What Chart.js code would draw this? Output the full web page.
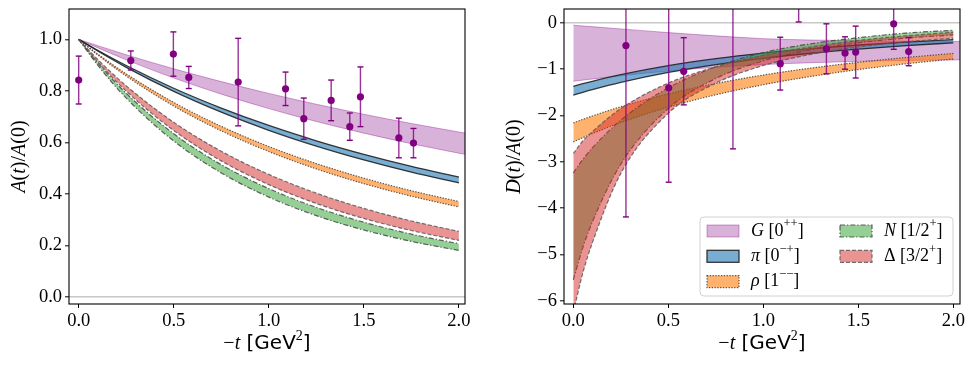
<!DOCTYPE html>
<html>
<head>
<meta charset="utf-8">
<title>A(t)/A(0) and D(t)/A(0)</title>
<script src="https://cdn.jsdelivr.net/npm/chart.js"></script>
<style>
  html, body { margin: 0; padding: 0; background: #fff; }
  #wrap { position: relative; width: 977px; height: 366px; }
  #leftChart { position: absolute; left: 0; top: 0; }
  #rightChart { position: absolute; left: 488px; top: 0; }
</style>
</head>
<body>
<div id="wrap">
  <canvas id="leftChart" width="488" height="366"></canvas>
  <canvas id="rightChart" width="489" height="366"></canvas>
</div>
<script>
// -t grids (GeV^2) the bands are sampled on
const tLeft  = [0, 0.1, 0.25, 0.5, 0.75, 1.0, 1.25, 1.5, 1.75, 2.0];
const tRight = [0, 0.05, 0.1, 0.25, 0.5, 0.75, 1.0, 1.25, 1.5, 1.75, 2.0];
const tGlue  = [0, 0.25, 0.5, 0.75, 1.0, 1.25, 1.5, 1.75, 2.0, 2.1];

// left panel: A(t)/A(0) bands (upper / lower edge)
const A_G_hi   = [1, 0.9403, 0.8858, 0.8359, 0.7901, 0.7480, 0.7091, 0.6732, 0.6400, 0.6274];
const A_G_lo   = [1, 0.9204, 0.8499, 0.7872, 0.7311, 0.6809, 0.6357, 0.5948, 0.5578, 0.5439];
const A_pi_hi  = [1, 0.9576, 0.8984, 0.8102, 0.7332, 0.6655, 0.6060, 0.5534, 0.5067, 0.4651];
const A_pi_lo  = [1, 0.9546, 0.8914, 0.7980, 0.7172, 0.6469, 0.5855, 0.5317, 0.4842, 0.4423];
const A_rho_hi = [1, 0.9433, 0.8660, 0.7550, 0.6621, 0.5838, 0.5175, 0.4608, 0.4121, 0.3700];
const A_rho_lo = [1, 0.9395, 0.8576, 0.7410, 0.6446, 0.5642, 0.4967, 0.4395, 0.3908, 0.3490];
const A_N_hi   = [1, 0.9087, 0.7905, 0.6331, 0.5130, 0.4201, 0.3473, 0.2896, 0.2434, 0.2060];
const A_N_lo   = [1, 0.8998, 0.7718, 0.6051, 0.4811, 0.3873, 0.3153, 0.2593, 0.2152, 0.1800];
const A_Dl_hi  = [1, 0.9223, 0.8194, 0.6777, 0.5654, 0.4754, 0.4026, 0.3433, 0.2945, 0.2540];
const A_Dl_lo  = [1, 0.9128, 0.7990, 0.6460, 0.5280, 0.4357, 0.3627, 0.3044, 0.2574, 0.2191];

// right panel: D(t)/A(0) bands
const D_G_hi   = [-0.05, -0.13, -0.21, -0.28, -0.34, -0.37, -0.385, -0.395, -0.40, -0.40];
const D_G_lo   = [-1.26, -1.14, -1.04, -0.96, -0.90, -0.86, -0.83, -0.81, -0.80, -0.79];
const D_pi_hi  = [-1.37, -1.3139, -1.2609, -1.1179, -0.9241, -0.7726, -0.6525, -0.5560, -0.4777, -0.4134, -0.3602];
const D_pi_lo  = [-1.56, -1.4989, -1.4409, -1.2841, -1.0696, -0.9004, -0.7650, -0.6555, -0.5659, -0.4919, -0.4303];
const D_rho_hi = [-2.16, -2.0833, -2.0102, -1.8103, -1.5322, -1.3083, -1.1260, -0.9760, -0.8515, -0.7473, -0.6595];
const D_rho_lo = [-2.57, -2.4782, -2.3907, -2.1516, -1.8193, -1.5521, -1.3347, -1.1561, -1.0080, -0.8842, -0.7798];
const D_N_hi   = [-3.24, -2.95, -2.70, -2.10, -1.40, -0.95, -0.64, -0.45, -0.32, -0.22, -0.16];
const D_N_lo   = [-5.55, -4.85, -4.30, -3.05, -1.85, -1.20, -0.82, -0.58, -0.43, -0.33, -0.26];
const D_Dl_hi  = [-2.82, -2.55, -2.35, -1.85, -1.30, -0.95, -0.70, -0.52, -0.38, -0.28, -0.20];
const D_Dl_lo  = [-6.25, -5.40, -4.75, -3.25, -1.95, -1.30, -0.92, -0.68, -0.52, -0.41, -0.33];

// lattice points with errors
const tA    = [0, 0.274, 0.498, 0.579, 0.839, 1.088, 1.184, 1.328, 1.426, 1.482, 1.684, 1.761];
const A_val = [0.842, 0.918, 0.943, 0.852, 0.834, 0.808, 0.692, 0.763, 0.661, 0.777, 0.617, 0.597];
const A_err = [0.093, 0.037, 0.086, 0.043, 0.170, 0.065, 0.080, 0.079, 0.053, 0.116, 0.077, 0.057];
const tD    = [0.277, 0.502, 0.581, 0.840, 1.089, 1.186, 1.332, 1.430, 1.486, 1.686, 1.765];
const D_val = [-0.49, -1.40, -1.045, 0.60, -0.88, 0.70, -0.56, -0.65, -0.63, -0.02, -0.62];
const D_err = [3.70, 2.04, 0.725, 3.32, 0.57, 0.68, 0.54, 0.35, 0.56, 0.55, 0.305];

const xTicks  = [0, 0.5, 1.0, 1.5, 2.0];
const yTicksA = [0, 0.2, 0.4, 0.6, 0.8, 1.0];
const yTicksD = [-6, -5, -4, -3, -2, -1, 0];

const SERIF = '"Liberation Serif", "DejaVu Serif", serif';
const SANS = '"DejaVu Sans", sans-serif';
const PURPLE = '#800080';

const styles = {
  G:   { fill: 'rgba(128,0,128,0.3)',  edge: 'rgba(128,0,128,0.35)', dash: [], w: 1 },
  pi:  { fill: 'rgba(31,119,180,0.6)', edge: 'rgba(25,25,25,0.85)', dash: [], w: 1.3 },
  rho: { fill: 'rgba(255,127,14,0.6)', edge: 'rgba(60,60,60,0.85)', dash: [1.3, 1.5], w: 1.2 },
  N:   { fill: 'rgba(44,160,44,0.5)',  edge: 'rgba(70,70,70,0.85)', dash: [5, 2, 1.3, 2], w: 1.2 },
  Dl:  { fill: 'rgba(214,39,40,0.5)',  edge: 'rgba(90,90,90,0.85)', dash: [4, 2], w: 1.2 }
};

function pts(xs, ys) { return xs.map((x, i) => ({ x: x, y: ys[i] })); }

function band(ts, hi, lo, st, order) {
  const common = {
    borderColor: st.edge, borderWidth: st.w, borderDash: st.dash,
    pointRadius: 0, cubicInterpolationMode: 'monotone'
  };
  return [
    Object.assign({ data: pts(ts, hi), backgroundColor: st.fill, fill: '+1', order: order }, common),
    Object.assign({ data: pts(ts, lo), fill: false, order: order - 0.5 }, common)
  ];
}

function errorSets(ts, vals, errs) {
  const bars = [];
  ts.forEach((t, i) => {
    bars.push({ x: t, y: vals[i] - errs[i] });
    bars.push({ x: t, y: vals[i] + errs[i] });
    bars.push({ x: t, y: null });
  });
  return [
    { data: bars, borderColor: 'rgba(128,0,128,0.8)', borderWidth: 1.4, fill: false,
      pointStyle: 'line', pointRadius: 3, pointBorderColor: PURPLE, pointBorderWidth: 1.4,
      spanGaps: false, order: 0.5 },
    { data: pts(ts, vals), showLine: false, pointRadius: 3.6, pointBackgroundColor: PURPLE,
      pointBorderColor: PURPLE, pointBorderWidth: 0, order: 0 }
  ];
}

// mixed-font text (italic symbols, superscripts)
function fontOf(p, size) {
  const s = p.sup ? size * 0.7 : size;
  return (p.it ? 'italic ' : '') + s + 'px ' + (p.fam || SERIF);
}
function richWidth(ctx, parts, size) {
  let w = 0;
  parts.forEach(p => { ctx.font = fontOf(p, size); w += ctx.measureText(p.t).width; });
  return w;
}
function drawRich(ctx, parts, x, y, size, align) {
  let cx = align === 'center' ? x - richWidth(ctx, parts, size) / 2 : x;
  ctx.textBaseline = 'middle';
  ctx.textAlign = 'left';
  ctx.fillStyle = '#000';
  parts.forEach(p => {
    ctx.font = fontOf(p, size);
    ctx.fillText(p.t, cx, p.sup ? y - size * 0.38 : y);
    cx += ctx.measureText(p.t).width;
  });
}

const xTitle = [{ t: '−' }, { t: 't', it: true }, { t: ' [GeV', fam: SANS }, { t: '2', sup: true }, { t: ']', fam: SANS }];
const legendItems = [
  { sym: 'G', base: '0', sup: '++', st: styles.G, col: 0, row: 0 },
  { sym: 'π', base: '0', sup: '−+', st: styles.pi, col: 0, row: 1 },
  { sym: 'ρ', base: '1', sup: '−−', st: styles.rho, col: 0, row: 2 },
  { sym: 'N', base: '1/2', sup: '+', st: styles.N, col: 1, row: 0 },
  { sym: 'Δ', base: '3/2', sup: '+', st: styles.Dl, col: 1, row: 1, up: true }
];

const decor = {
  id: 'decor',
  afterDatasetsDraw(chart) {
    const a = chart.chartArea, c = chart.ctx;
    c.save();
    c.strokeStyle = '#000';
    c.lineWidth = 1.1;
    c.strokeRect(a.left, a.top, a.right - a.left, a.bottom - a.top);
    c.restore();
  },
  afterDraw(chart) {
    const a = chart.chartArea, c = chart.ctx, o = chart.options.plugins.decor;
    c.save();
    drawRich(c, xTitle, (a.left + a.right) / 2, 344, 20, 'center');
    c.translate(o.yTitleX, (a.top + a.bottom) / 2);
    c.rotate(-Math.PI / 2);
    drawRich(c, o.yTitle, 0, 0, 20, 'center');
    c.restore();

    if (o.legend) {
      const bw = 253, bh = 79;
      const bx = a.right - 7 - bw, by = a.bottom - 8 - bh;
      c.save();
      c.beginPath();
      c.roundRect(bx, by, bw, bh, 4);
      c.fillStyle = 'rgba(255,255,255,0.8)';
      c.fill();
      c.strokeStyle = '#d0d0d0';
      c.lineWidth = 1;
      c.stroke();
      legendItems.forEach(it => {
        const px = bx + (it.col ? 140 : 7);
        const cy = by + 14 + it.row * 25.3;
        c.fillStyle = it.st.fill;
        c.fillRect(px, cy - 6, 32, 12);
        c.strokeStyle = it.st.edge;
        c.lineWidth = it.st.w;
        c.setLineDash(it.st.dash);
        c.strokeRect(px, cy - 6, 32, 12);
        c.setLineDash([]);
        const parts = [{ t: it.sym, it: !it.up }, { t: ' [' + it.base }, { t: it.sup, sup: true }, { t: ']' }];
        drawRich(c, parts, px + 44, cy, 18, 'left');
      });
      c.restore();
    }
  }
};

function tickFont() { return { family: SERIF, size: 18.5 }; }
function minus(v) { return v < 0 ? '−' + Math.abs(v) : String(v); }

function makeChart(id, datasets, opt) {
  return new Chart(document.getElementById(id), {
    type: 'line',
    data: { datasets: datasets },
    plugins: [decor],
    options: {
      responsive: false,
      animation: false,
      layout: { padding: { left: 0, top: 9, right: opt.rightPad, bottom: 0 } },
      plugins: {
        legend: { display: false },
        tooltip: { enabled: false },
        decor: { yTitle: opt.yTitle, yTitleX: opt.yTitleX, legend: opt.legend }
      },
      scales: {
        x: {
          type: 'linear', min: opt.xMin, max: opt.xMax,
          afterBuildTicks: s => { s.ticks = xTicks.map(v => ({ value: v })); },
          afterFit: s => { s.height = 62; s.paddingLeft = 0; s.paddingRight = 0; },
          ticks: { font: tickFont(), color: '#000', padding: 2, maxRotation: 0, autoSkip: false,
                   callback: v => v.toFixed(1) },
          grid: { drawOnChartArea: false, tickLength: 4, tickColor: '#000', tickWidth: 1 },
          border: { display: false }
        },
        y: {
          type: 'linear', min: opt.yMin, max: opt.yMax,
          afterBuildTicks: s => { s.ticks = opt.yTicks.map(v => ({ value: v })); },
          afterFit: s => { s.width = opt.leftW; s.paddingTop = 0; s.paddingBottom = 0; },
          ticks: { font: tickFont(), color: '#000', padding: 3, autoSkip: false, callback: opt.yLabel },
          grid: {
            color: ctx => (ctx.tick && ctx.tick.value === 0) ? '#c8c8c8' : 'rgba(0,0,0,0)',
            lineWidth: 1.6, tickLength: 4, tickColor: '#000', tickWidth: 1
          },
          border: { display: false }
        }
      }
    }
  });
}

const leftSets = [].concat(
  errorSets(tA, A_val, A_err),
  band(tGlue, A_G_hi, A_G_lo, styles.G, 10),
  band(tLeft, A_pi_hi, A_pi_lo, styles.pi, 8),
  band(tLeft, A_rho_hi, A_rho_lo, styles.rho, 6),
  band(tLeft, A_N_hi, A_N_lo, styles.N, 4),
  band(tLeft, A_Dl_hi, A_Dl_lo, styles.Dl, 2)
);
const rightSets = [].concat(
  errorSets(tD, D_val, D_err),
  band(tGlue, D_G_hi, D_G_lo, styles.G, 10),
  band(tRight, D_pi_hi, D_pi_lo, styles.pi, 8),
  band(tRight, D_rho_hi, D_rho_lo, styles.rho, 6),
  band(tRight, D_N_hi, D_N_lo, styles.N, 4),
  band(tRight, D_Dl_hi, D_Dl_lo, styles.Dl, 2)
);

makeChart('leftChart', leftSets, {
  xMin: -0.051, xMax: 2.032, yMin: -0.028, yMax: 1.118, yTicks: yTicksA,
  yLabel: v => v.toFixed(1), leftW: 69, rightPad: 23, yTitleX: 20, legend: false,
  yTitle: [{ t: 'A', it: true }, { t: '(' }, { t: 't', it: true }, { t: ')/' }, { t: 'A', it: true }, { t: '(0)' }]
});
makeChart('rightChart', rightSets, {
  xMin: -0.049, xMax: 2.035, yMin: -6.07, yMax: 0.30, yTicks: yTicksD,
  yLabel: v => minus(v), leftW: 76, rightPad: 17, yTitleX: 27, legend: true,
  yTitle: [{ t: 'D', it: true }, { t: '(' }, { t: 't', it: true }, { t: ')/' }, { t: 'A', it: true }, { t: '(0)' }]
});
</script>
</body>
</html>
